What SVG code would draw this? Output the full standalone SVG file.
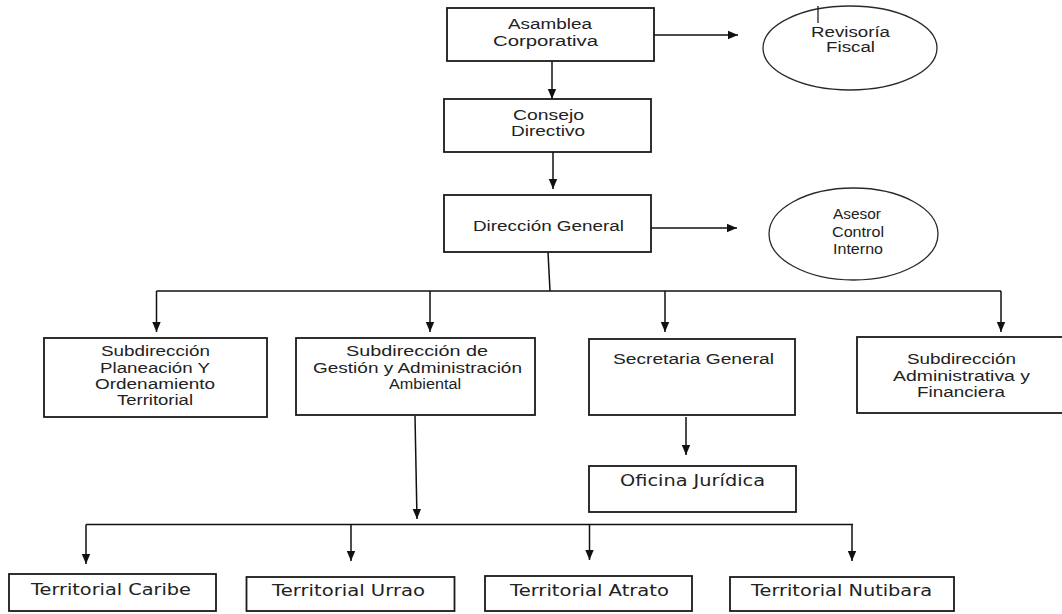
<svg xmlns="http://www.w3.org/2000/svg" width="1062" height="614" viewBox="0 0 1062 614">
<style>
.box{fill:#fff;stroke:#1a1a1a;stroke-width:1.8}
.ell{fill:#fff;stroke:#2a2a2a;stroke-width:1.3}
.t{font-family:"Liberation Sans",Arial,sans-serif;font-size:14px;fill:#222}
.v{font-family:"DejaVu Sans",Verdana,sans-serif;font-size:15px;fill:#222}
.c{fill:none;stroke:#111;stroke-width:1.5}
</style>
<defs>
<marker id="ah" markerUnits="userSpaceOnUse" markerWidth="10" markerHeight="10" refX="10" refY="5" orient="auto">
<path d="M0,0.8 L10,5 L0,9.2 z" fill="#111"/>
</marker>
</defs>
<rect width="1062" height="614" fill="#fff"/>

<g id="connectors">
<line class="c" x1="552" y1="61" x2="552" y2="99" marker-end="url(#ah)"/>
<line class="c" x1="654" y1="35" x2="738" y2="35" marker-end="url(#ah)"/>
<line class="c" x1="553" y1="152" x2="553" y2="189" marker-end="url(#ah)"/>
<line class="c" x1="651" y1="228" x2="737" y2="228" marker-end="url(#ah)"/>
<line class="c" x1="548" y1="252" x2="550" y2="291"/>
<line class="c" x1="156.5" y1="291" x2="1001" y2="291"/>
<line class="c" x1="156.5" y1="291" x2="156.5" y2="332" marker-end="url(#ah)"/>
<line class="c" x1="430" y1="291" x2="430" y2="332" marker-end="url(#ah)"/>
<line class="c" x1="665" y1="291" x2="665" y2="332" marker-end="url(#ah)"/>
<line class="c" x1="1001" y1="291" x2="1001" y2="332" marker-end="url(#ah)"/>
<line class="c" x1="686" y1="417" x2="686" y2="455" marker-end="url(#ah)"/>
<line class="c" x1="415" y1="416" x2="417" y2="519" marker-end="url(#ah)"/>
<line class="c" x1="86" y1="524.5" x2="853" y2="524.5"/>
<line class="c" x1="86" y1="524.5" x2="86" y2="564" marker-end="url(#ah)"/>
<line class="c" x1="351" y1="524.5" x2="351" y2="561" marker-end="url(#ah)"/>
<line class="c" x1="589.5" y1="524.5" x2="589.5" y2="560" marker-end="url(#ah)"/>
<line class="c" x1="852" y1="524.5" x2="852" y2="561" marker-end="url(#ah)"/>
</g>

<g id="asamblea">
<rect class="box" x="447" y="8" width="207" height="53"/>
<text class="t" x="508" y="29" textLength="84" lengthAdjust="spacingAndGlyphs">Asamblea</text>
<text class="t" x="493" y="46" textLength="105" lengthAdjust="spacingAndGlyphs">Corporativa</text>
</g>
<g id="revisoria">
<ellipse class="ell" cx="850" cy="48" rx="87" ry="42"/>
<line x1="818" y1="6" x2="818" y2="23" stroke="#222" stroke-width="1.3"/>
<text class="t" x="811" y="37" textLength="79" lengthAdjust="spacingAndGlyphs">Revisoría</text>
<text class="t" x="826" y="52" textLength="49" lengthAdjust="spacingAndGlyphs">Fiscal</text>
</g>
<g id="consejo">
<rect class="box" x="444" y="99" width="207" height="53"/>
<text class="t" x="513" y="120" textLength="71" lengthAdjust="spacingAndGlyphs">Consejo</text>
<text class="t" x="511" y="136" textLength="74" lengthAdjust="spacingAndGlyphs">Directivo</text>
</g>
<g id="direccion">
<rect class="box" x="444" y="195" width="207" height="57"/>
<text class="t" x="473" y="231" textLength="151" lengthAdjust="spacingAndGlyphs">Dirección General</text>
</g>
<g id="asesor">
<ellipse class="ell" cx="853.5" cy="234" rx="84.5" ry="46"/>
<text class="t" x="833" y="219" textLength="48" lengthAdjust="spacingAndGlyphs">Asesor</text>
<text class="t" x="832" y="237" textLength="52" lengthAdjust="spacingAndGlyphs">Control</text>
<text class="t" x="833" y="254" textLength="50" lengthAdjust="spacingAndGlyphs">Interno</text>
</g>
<g id="planeacion">
<rect class="box" x="44" y="338" width="223" height="79"/>
<text class="t" x="101" y="355.5" textLength="109" lengthAdjust="spacingAndGlyphs">Subdirección</text>
<text class="t" x="100" y="372.5" textLength="110" lengthAdjust="spacingAndGlyphs">Planeación Y</text>
<text class="t" x="95" y="389" textLength="120" lengthAdjust="spacingAndGlyphs">Ordenamiento</text>
<text class="t" x="117" y="405" textLength="76" lengthAdjust="spacingAndGlyphs">Territorial</text>
</g>
<g id="gestion">
<rect class="box" x="296" y="338" width="239" height="77"/>
<text class="t" x="346" y="356" textLength="142" lengthAdjust="spacingAndGlyphs">Subdirección  de</text>
<text class="t" x="313" y="373" textLength="209" lengthAdjust="spacingAndGlyphs">Gestión y Administración</text>
<text class="t" x="389" y="389" textLength="72" lengthAdjust="spacingAndGlyphs">Ambiental</text>
</g>
<g id="secretaria">
<rect class="box" x="589" y="339" width="206" height="76"/>
<text class="t" x="613" y="364" textLength="161" lengthAdjust="spacingAndGlyphs">Secretaria General</text>
</g>
<g id="financiera">
<rect class="box" x="857" y="337" width="210" height="76"/>
<text class="t" x="907" y="364" textLength="109" lengthAdjust="spacingAndGlyphs">Subdirección</text>
<text class="t" x="893" y="380.5" textLength="137" lengthAdjust="spacingAndGlyphs">Administrativa y</text>
<text class="t" x="917" y="397" textLength="88" lengthAdjust="spacingAndGlyphs">Financiera</text>
</g>
<g id="oficina">
<rect class="box" x="589" y="466" width="207" height="46"/>
<text class="v" x="620" y="485.5" textLength="145" lengthAdjust="spacingAndGlyphs">Oficina Jurídica</text>
</g>
<g id="caribe">
<rect class="box" x="9" y="574" width="207" height="37"/>
<text class="v" x="31" y="595" textLength="160" lengthAdjust="spacingAndGlyphs">Territorial Caribe</text>
</g>
<g id="urrao">
<rect class="box" x="246.5" y="577" width="208" height="34"/>
<text class="v" x="272" y="596" textLength="153" lengthAdjust="spacingAndGlyphs">Territorial Urrao</text>
</g>
<g id="atrato">
<rect class="box" x="485" y="576" width="207" height="35"/>
<text class="v" x="510" y="596" textLength="159" lengthAdjust="spacingAndGlyphs">Territorial Atrato</text>
</g>
<g id="nutibara">
<rect class="box" x="730" y="577" width="224" height="34"/>
<text class="v" x="751" y="596" textLength="181" lengthAdjust="spacingAndGlyphs">Territorial Nutibara</text>
</g>
</svg>
